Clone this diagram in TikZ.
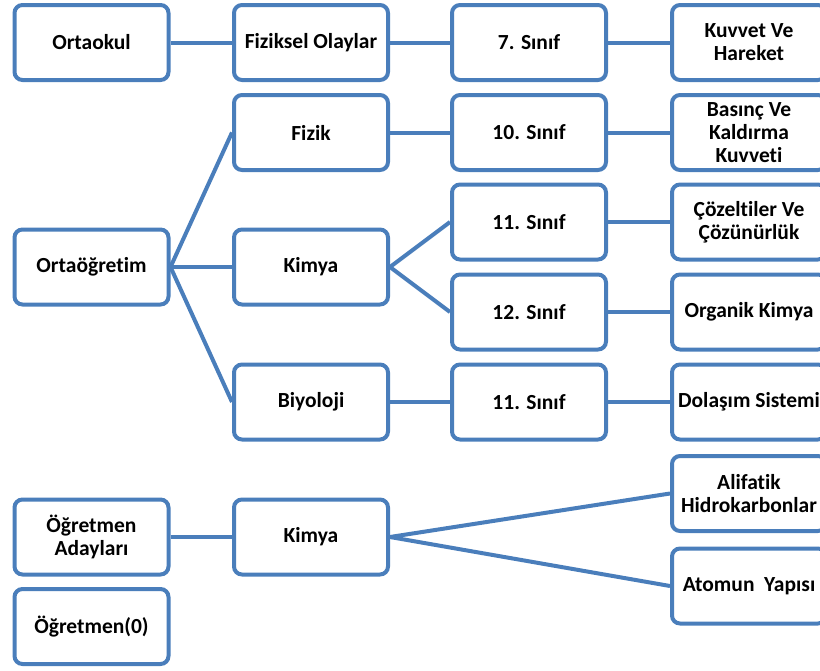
\documentclass[tikz,border=0pt]{standalone}
\usepackage{fontspec}
\setmainfont{Carlito}[Ligatures={NoCommon,NoContextual}]
\definecolor{bblue}{RGB}{74,126,187}
\begin{document}
\begin{tikzpicture}[x=1pt,y=-1pt,
  box/.style={draw=bblue, line width=4pt, rounded corners=8pt, fill=white,
    minimum width=154pt, minimum height=75pt, inner sep=0pt, align=center,
    font=\fontsize{21.5}{23}\selectfont\bfseries, text=black},
  link/.style={draw=bblue, line width=4pt}]
\useasboundingbox (0,0) rectangle (820,670);
\clip (0,0) rectangle (820,670);
% column 1
\node[box] (ortaokul) at (91.5,42.5) {Ortaokul};
\node[box] (ortaog) at (91.5,267) {Ortaöğretim};
\node[box] (adaylar) at (91.5,537) {Öğretmen\\Adayları};
\node[box] (ogretmen) at (91.5,626.5) {Öğretmen(0)};
% column 2
\node[box] (fizoly) at (311,42.5) {Fiziksel Olaylar};
\node[box] (fizik) at (311,132.5) {Fizik};
\node[box] (kimya) at (311,267) {Kimya};
\node[box] (biyo) at (311,402) {Biyoloji};
\node[box] (kimya2) at (311,537) {Kimya};
% column 3
\node[box] (s7) at (529,42.5) {7. Sınıf};
\node[box] (s10) at (529,132.5) {10. Sınıf};
\node[box] (s11a) at (529,222) {11. Sınıf};
\node[box] (s12) at (529,312) {12. Sınıf};
\node[box] (s11b) at (529,402) {11. Sınıf};
% column 4
\node[box] (kuvvet) at (749,42.5) {Kuvvet Ve\\Hareket};
\node[box] (basinc) at (749,132.5) {Basınç Ve\\Kaldırma\\Kuvveti};
\node[box] (cozel) at (749,222) {Çözeltiler Ve\\Çözünürlük};
\node[box] (organik) at (749,312) {Organik Kimya};
\node[box] (dolasim) at (749,402) {Dolaşım Sistemi};
\node[box] (alifatik) at (749,493.5) {Alifatik\\Hidrokarbonlar};
\node[box] (atomun) at (749,586) {Atomun\ \ Yapısı};
% connectors
\draw[link] (ortaokul.east) -- (fizoly.west);
\draw[link] (fizoly.east) -- (s7.west);
\draw[link] (s7.east) -- (kuvvet.west);
\draw[link] (ortaog.east) -- (fizik.west);
\draw[link] (ortaog.east) -- (kimya.west);
\draw[link] (ortaog.east) -- (biyo.west);
\draw[link] (fizik.east) -- (s10.west);
\draw[link] (s10.east) -- (basinc.west);
\draw[link] (kimya.east) -- (s11a.west);
\draw[link] (kimya.east) -- (s12.west);
\draw[link] (s11a.east) -- (cozel.west);
\draw[link] (s12.east) -- (organik.west);
\draw[link] (biyo.east) -- (s11b.west);
\draw[link] (s11b.east) -- (dolasim.west);
\draw[link] (adaylar.east) -- (kimya2.west);
\draw[link] (kimya2.east) -- (alifatik.west);
\draw[link] (kimya2.east) -- (atomun.west);
\end{tikzpicture}
\end{document}
